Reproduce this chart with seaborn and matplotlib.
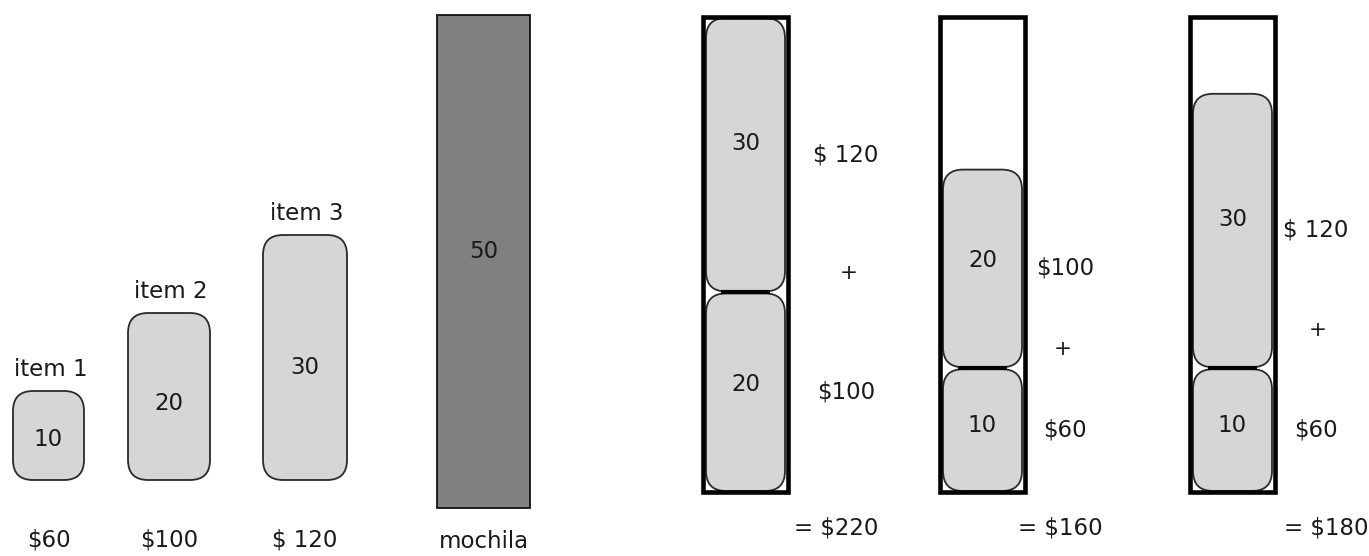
import matplotlib
matplotlib.use("Agg")
import matplotlib.pyplot as plt
import seaborn as sns
from matplotlib.patches import FancyBboxPatch, Rectangle

# ======= data =======
item_names = ["item 1", "item 2", "item 3"]
item_weights = [10, 20, 30]
item_value_labels = ["$60", "$100", "$ 120"]
capacity = 50
capacity_label = "mochila"
# contents of each solution, listed bottom -> top
sack_contents = [[20, 30], [10, 20], [10, 30]]
sack_totals = ["= $220", "= $160", "= $180"]

# ======= style =======
sns.set_theme(style="white")
plt.rcParams['font.family'] = ['DejaVu Sans']
item_fill = "#d6d6d6"
sack_fill = "#808080"
edge_dark = "#2a2a2a"
txt = "#1a1a1a"
FS = 16.5

# ======= layout (pixels) =======
W, H = 1369, 556
base_items = 480
item_left = [13, 128, 263]
item_width = [71, 82, 84]
moch_left, moch_width, moch_bottom, moch_scale = 437, 93, 508, 9.86
sack_left = [703, 940, 1190]
sack_width = 85
sack_bottom = 492
sack_frame = 475
val_dx = [58, 40, 41]     # value label offset right of each sack
plus_dx = [61, 38, 43]
total_dx = [48, 35, 51]
radius = 20


def item_h(w):
    # schematic scale for the loose items
    return 11 + 7.8 * w


def sack_h(w):
    # schematic scale for the packed items
    return 48 + 7.58 * w


fig = plt.figure(figsize=(W / 100, H / 100), dpi=100)
ax = fig.add_axes([0, 0, 1, 1])
ax.set_xlim(0, W)
ax.set_ylim(H, 0)
ax.axis("off")


def rounded(x, top, w, h):
    p = FancyBboxPatch((x, top), w, h,
                       boxstyle=f"round,pad=0,rounding_size={radius}",
                       facecolor=item_fill, edgecolor=edge_dark, linewidth=1.3,
                       zorder=2)
    ax.add_patch(p)


value_of = dict(zip(item_weights, item_value_labels))

# --- loose items ---
for name, wgt, val, x, w in zip(item_names, item_weights, item_value_labels,
                                item_left, item_width):
    h = item_h(wgt)
    top = base_items - h
    rounded(x, top, w, h)
    cx = x + w / 2
    ax.text(cx, top + h * 0.54, str(wgt), ha="center", va="center", fontsize=FS, color=txt)
    ax.text(cx + 2, top - 22, name, ha="center", va="center", fontsize=FS, color=txt)
    ax.text(cx, 540, val, ha="center", va="center", fontsize=FS, color=txt)

# --- empty knapsack ---
mh = capacity * moch_scale
ax.add_patch(Rectangle((moch_left, moch_bottom - mh), moch_width, mh,
                       facecolor=sack_fill, edgecolor="#111", linewidth=1.3, zorder=2))
ax.text(moch_left + moch_width / 2, moch_bottom - mh * 0.52, str(capacity),
        ha="center", va="center", fontsize=FS, color=txt)
ax.text(moch_left + moch_width / 2, 542, capacity_label, ha="center", va="center",
        fontsize=FS, color=txt)

# --- filled knapsacks ---
for k, (x, contents, total) in enumerate(zip(sack_left, sack_contents, sack_totals)):
    inset = 3
    y = sack_bottom
    right = x + sack_width
    label_y = []
    for i, wgt in enumerate(contents):
        h = sack_h(wgt)
        top = y - h
        rounded(x + inset, top + 1, sack_width - 2 * inset, h - 2)
        cx = x + sack_width / 2
        ax.text(cx, top + h * 0.46, str(wgt), ha="center", va="center", fontsize=FS, color=txt)
        ly = top + h * 0.5
        label_y.append(ly)
        ax.text(right + val_dx[k], ly, value_of[wgt], ha="center", va="center",
                fontsize=FS, color=txt)
        if i > 0:
            ax.plot([x + 18, right - 18], [y, y], color="black", lw=3,
                    solid_capstyle="butt", zorder=3)
        y = top
    # "+" between the two value labels
    ax.text(right + plus_dx[k], (label_y[0] + label_y[1]) / 2, "+", ha="center",
            va="center", fontsize=FS - 1, color=txt)
    ax.add_patch(Rectangle((x, sack_bottom - sack_frame), sack_width, sack_frame,
                           facecolor="none", edgecolor="black", linewidth=3.3, zorder=4))
    ax.text(right + total_dx[k], 528, total, ha="center", va="center", fontsize=FS,
            color=txt)

fig.savefig("out.png", dpi=100, facecolor="white")
